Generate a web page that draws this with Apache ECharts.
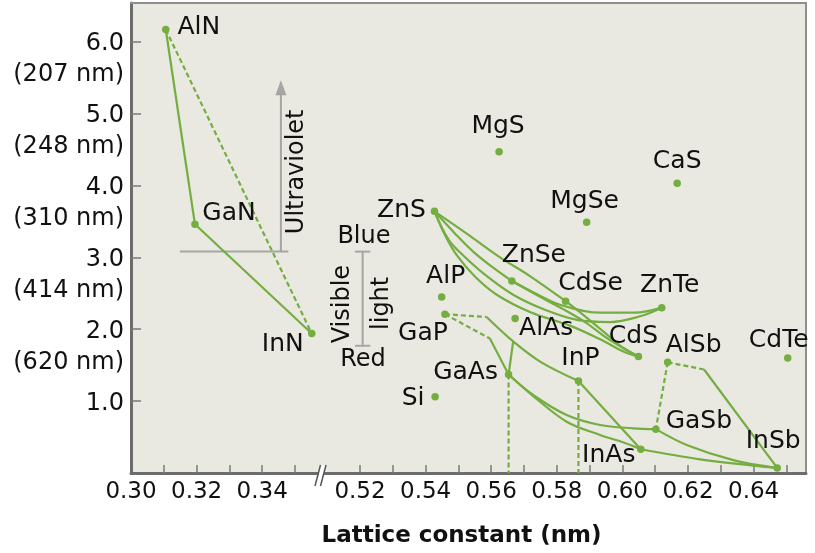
<!DOCTYPE html>
<html><head><meta charset="utf-8">
<script src="https://cdn.jsdelivr.net/npm/echarts@6/dist/echarts.min.js"></script>
<style>html,body{margin:0;padding:0;background:#fff}#c{width:815px;height:553px}</style>
</head><body><div id="c"></div>
<script>
// ---------- data ----------
const nitrideNames = ['AlN', 'GaN', 'InN'];
const nitrideLattice = [0.3106, 0.3195, 0.3551];
const nitrideGap = [6.17, 3.46, 1.94];

const compoundNames = ['MgS','CaS','MgSe','ZnS','ZnSe','CdSe','ZnTe','CdS','AlP','GaP','AlAs','GaAs','InP','Si','AlSb','CdTe','GaSb','InAs','InSb'];
const compoundLattice = [0.5624,0.6167,0.5891,0.5427,0.5663,0.5827,0.6120,0.6049,0.5449,0.5459,0.5673,0.5653,0.5866,0.5429,0.6138,0.6504,0.6102,0.6056,0.6472];
const compoundGap = [4.47,4.03,3.49,3.64,2.67,2.39,2.30,1.62,2.45,2.21,2.15,1.37,1.28,1.06,1.54,1.60,0.61,0.33,0.07];

const yTickValues = [1, 2, 3, 4, 5, 6];
const yTickLabels = ['1.0', '2.0', '3.0', '4.0', '5.0', '6.0'];
const yTickWavelengths = ['', '(620 nm)', '(414 nm)', '(310 nm)', '(248 nm)', '(207 nm)'];
const xLabelsLeft = [0.30, 0.32, 0.34];
const xTicksLeft = [0.31, 0.32, 0.33, 0.34, 0.35];
const xLabelsRight = [0.52, 0.54, 0.56, 0.58, 0.60, 0.62, 0.64];
const xTicksRight = [0.52, 0.53, 0.54, 0.55, 0.56, 0.57, 0.58, 0.59, 0.60, 0.61, 0.62, 0.63, 0.64, 0.65];

// connections: [from, points, to]
const nitrideSolid = [['AlN', [], 'GaN'], ['GaN', [], 'InN']];
const nitrideDashed = [['AlN', [], 'InN']];
const solidLinks = [
  ['ZnS', [[0.5535,3.30],[0.5627,3.00],[0.5718,2.74]], 'CdSe'],
  ['CdSe', [[0.5886,2.18],[0.5947,1.95],[0.6002,1.74]], 'CdS'],
  ['ZnS', [[0.5490,3.33],[0.5545,3.08],[0.5602,2.87]], 'ZnSe'],
  ['ZnSe', [[0.5749,2.45],[0.5819,2.28],[0.5886,2.10],[0.5962,1.85]], 'CdS'],
  ['ZnSe', [[0.5734,2.50],[0.5810,2.34],[0.5932,2.23],[0.6038,2.23]], 'ZnTe'],
  ['ZnS', [[0.5471,3.24],[0.5514,3.03],[0.5581,2.76],[0.5667,2.48],[0.5764,2.27],[0.5861,2.13],[0.5962,2.10],[0.6054,2.18]], 'ZnTe'],
  ['ZnS', [[0.5459,3.31],[0.5495,3.03],[0.5551,2.73],[0.5617,2.48],[0.5718,2.24],[0.5840,2.05],[0.5932,1.86],[0.6008,1.68]], 'CdS'],
  [[0.5586,2.17], [[0.5667,1.83],[0.5749,1.55]], 'InP'],
  [[0.5596,1.87], [], 'GaAs'],
  ['GaAs', [], [0.5667,1.83]],
  ['InP', [], 'InAs'],
  ['GaAs', [[0.5728,1.085],[0.5830,0.807],[0.5932,0.668],[0.6033,0.622]], 'GaSb'],
  ['GaAs', [[0.5728,1.07],[0.5830,0.714],[0.5932,0.529],[0.6008,0.417]], 'InAs'],
  ['InAs', [[0.6237,0.19]], 'InSb'],
  ['GaSb', [[0.6196,0.39],[0.6338,0.18]], 'InSb'],
  [[0.6249,1.44], [], 'InSb']
];
const dashedLinks = [
  ['GaP', [], [0.5586,2.17]],
  ['GaP', [], [0.5596,1.87]],
  ['GaAs', [], [0.5653,0]],
  ['InP', [], [0.5866,0]],
  ['AlSb', [], [0.6249,1.44]],
  ['AlSb', [], 'GaSb']
];

// annotation values
const uvBandEdge = 3.08;           // eV
const uvLineX = [0.3149, 0.3480];
const uvArrowX = 0.3457;
const uvArrowHead = 5.36;
const visibleX = 0.5208;
const visibleRange = [1.77, 3.08];
const visibleCapX = [0.5185, 0.5231];
const annotationTexts = [
  ['Ultraviolet', 0.3506, 4.19, 90, 0],
  ['Blue', 0.5212, 3.28, 0, 1],
  ['Red', 0.5209, 1.58, 0, 1],
  ['Visible', 0.5148, 2.35, 90, 1],
  ['light', 0.5266, 2.36, 90, 1]
];

// ---------- layout / style ----------
const labelOffsets = {
  AlN:[33,-2], GaN:[34,-11], InN:[-29,11],
  MgS:[-1,-25], CaS:[0,-22], MgSe:[-2,-21], ZnS:[-33,-1], ZnSe:[22,-26], CdSe:[25,-18],
  ZnTe:[8,-22], CdS:[-5,-20], AlP:[4,-20], GaP:[-22,19], AlAs:[31,10], GaAs:[-43,-2],
  InP:[2,-22], Si:[-22,2], AlSb:[26,-17], CdTe:[-9,-17], GaSb:[43,-8], InAs:[-32,6], InSb:[-4,-26]
};
const GREEN = '#74ae40';
const FONT = '"DejaVu Sans", Arial, sans-serif';
const BG = '#e9e8e1';
const AXIS = '#6c6c6c';
const TXT = '#111';
const plainText = { color: TXT, fontFamily: FONT, textBorderWidth: 0, textBorderColor: 'transparent', textShadowBlur: 0, opacity: 1 };

const lookup = {};
nitrideNames.forEach((n, i) => lookup[n] = [nitrideLattice[i], nitrideGap[i]]);
compoundNames.forEach((n, i) => lookup[n] = [compoundLattice[i], compoundGap[i]]);
const P = e => (typeof e === 'string' ? lookup[e] : e);
const linkData = l => [P(l[0])].concat(l[1]).concat([P(l[2])]);

function linkSeries(links, axis, dashed) {
  return links.map(l => ({
    type: 'line', xAxisIndex: axis, yAxisIndex: axis, data: linkData(l),
    smooth: l[1].length ? 0.35 : false, symbol: 'none', silent: true, z: 3,
    lineStyle: { color: GREEN, width: 2.2, type: dashed ? [5, 3] : 'solid' }
  }));
}
function pointSeries(names, xs, ys, axis) {
  return {
    type: 'scatter', xAxisIndex: axis, yAxisIndex: axis, symbolSize: 7.5, z: 5,
    itemStyle: { color: GREEN, opacity: 1 },
    data: names.map((n, i) => ({ name: n, value: [xs[i], ys[i]], label: { offset: labelOffsets[n] } })),
    label: Object.assign({ show: true, position: 'inside', formatter: p => p.name, fontSize: 25 }, plainText)
  };
}
const grayLine = { color: '#a5a5a5', width: 2 };
function graySeg(axis, pts) {
  return { type: 'line', xAxisIndex: axis, yAxisIndex: axis, data: pts, symbol: 'none', silent: true, z: 2, lineStyle: grayLine };
}
function textSeries(axis, group) {
  return { type: 'scatter', xAxisIndex: axis, yAxisIndex: axis, symbolSize: 0, silent: true, z: 6,
    itemStyle: { opacity: 1 },
    data: annotationTexts.filter(a => a[4] === group).map(a => ({ name: a[0], value: [a[1], a[2]], label: { rotate: a[3] } })),
    label: Object.assign({ show: true, position: 'inside', formatter: p => p.name, fontSize: 24 }, plainText) };
}

const series = [].concat(
  linkSeries(nitrideSolid, 0, false),
  linkSeries(nitrideDashed, 0, true),
  linkSeries(solidLinks, 1, false),
  linkSeries(dashedLinks, 1, true),
  [
    graySeg(0, [[uvLineX[0], uvBandEdge], [uvLineX[1], uvBandEdge]]),
    graySeg(0, [[uvArrowX, uvBandEdge], [uvArrowX, uvArrowHead]]),
    { type: 'scatter', xAxisIndex: 0, yAxisIndex: 0, symbol: 'triangle', symbolSize: [11, 15], silent: true,
      itemStyle: { color: '#a5a5a5', opacity: 1 }, data: [[uvArrowX, uvArrowHead]] },
    graySeg(1, [[visibleX, visibleRange[0]], [visibleX, visibleRange[1]]]),
    graySeg(1, [[visibleCapX[0], visibleRange[0]], [visibleCapX[1], visibleRange[0]]]),
    graySeg(1, [[visibleCapX[0], visibleRange[1]], [visibleCapX[1], visibleRange[1]]]),
    textSeries(1, 1),
    textSeries(0, 0),
    pointSeries(nitrideNames, nitrideLattice, nitrideGap, 0),
    pointSeries(compoundNames, compoundLattice, compoundGap, 1)
  ]
);

const G0 = { left: 131, top: 3, width: 189, height: 470 };
const G1 = { left: 320, top: 3, width: 486, height: 470 };
const PXU = 3280;
const x0Min = 0.30, x0Max = 0.30 + G0.width / PXU;
const x1Min = 0.52 - 40 / PXU, x1Max = x1Min + G1.width / PXU;
const yMax = 470 / 71.88;

function bottomX(grid, min, max, ticks, labels) {
  return {
    type: 'value', gridIndex: grid, position: 'bottom', min, max,
    axisLine: { show: true, onZero: false, lineStyle: { color: AXIS, width: 3 } },
    axisTick: { show: true, inside: true, length: 8, customValues: ticks, lineStyle: { color: '#7a7a7a', width: 1.5 } },
    axisLabel: { customValues: labels, formatter: v => v.toFixed(2), fontSize: 23, fontFamily: FONT, color: TXT, margin: 8,
      hideOverlap: false, showMinLabel: true, showMaxLabel: true },
    splitLine: { show: false }
  };
}
function decoAxis(grid, pos, w) {
  return {
    type: 'value', gridIndex: grid, position: pos, min: 0, max: 1,
    axisLine: { show: true, onZero: false, lineStyle: { color: '#8f8f8f', width: w } },
    axisTick: { show: false }, axisLabel: { show: false }, splitLine: { show: false }
  };
}

const option = {
  animation: false,
  backgroundColor: '#fff',
  grid: [
    Object.assign({ show: true, backgroundColor: BG, borderWidth: 0 }, G0),
    Object.assign({ show: true, backgroundColor: BG, borderWidth: 0 }, G1)
  ],
  xAxis: [
    bottomX(0, x0Min, x0Max, xTicksLeft, xLabelsLeft),
    bottomX(1, x1Min, x1Max, xTicksRight, xLabelsRight),
    decoAxis(0, 'top', 2),
    decoAxis(1, 'top', 2)
  ],
  yAxis: [
    {
      type: 'value', gridIndex: 0, position: 'left', min: 0, max: yMax,
      axisLine: { show: true, onZero: false, lineStyle: { color: AXIS, width: 3 } },
      axisTick: { show: true, inside: true, length: 10, customValues: yTickValues, lineStyle: { color: '#7a7a7a', width: 1.5 } },
      axisLabel: {
        customValues: yTickValues, fontSize: 24, fontFamily: FONT, color: TXT, margin: 7,
        hideOverlap: false, showMinLabel: true, showMaxLabel: true,
        formatter: v => {
          const i = yTickValues.indexOf(Math.round(v));
          return yTickWavelengths[i] ? '{a|' + yTickLabels[i] + '}\n{b|' + yTickWavelengths[i] + '}' : '{a|' + yTickLabels[i] + '}';
        },
        rich: {
          a: { fontSize: 24, fontFamily: FONT, color: TXT, lineHeight: 31 },
          b: { fontSize: 24, fontFamily: FONT, color: TXT, lineHeight: 31 }
        },
        verticalAlign: 'top', padding: [-13, 0, 0, 0]
      },
      splitLine: { show: false }
    },
    { type: 'value', gridIndex: 1, min: 0, max: yMax, show: false },
    decoAxis(1, 'right', 2)
  ],
  graphic: [
    { type: 'polygon', z: 100, shape: { points: [[315, 486], [320.5, 465], [326, 465], [320.5, 486]] }, style: { fill: '#fff' } },
    { type: 'polyline', z: 101, shape: { points: [[315, 486], [320.5, 465]] }, style: { stroke: '#555', lineWidth: 1.5, fill: null } },
    { type: 'polyline', z: 101, shape: { points: [[320.5, 486], [326, 465]] }, style: { stroke: '#555', lineWidth: 1.5, fill: null } },
    { type: 'text', z: 100, x: 461.5, y: 536,
      style: { text: 'Lattice constant (nm)', fontSize: 23, fontWeight: 'bold', fontFamily: FONT, fill: '#111', align: 'center', verticalAlign: 'middle' } }
  ],
  series
};

const chart = echarts.init(document.getElementById('c'), null, { renderer: 'canvas' });
chart.setOption(option);
</script>
</body></html>
